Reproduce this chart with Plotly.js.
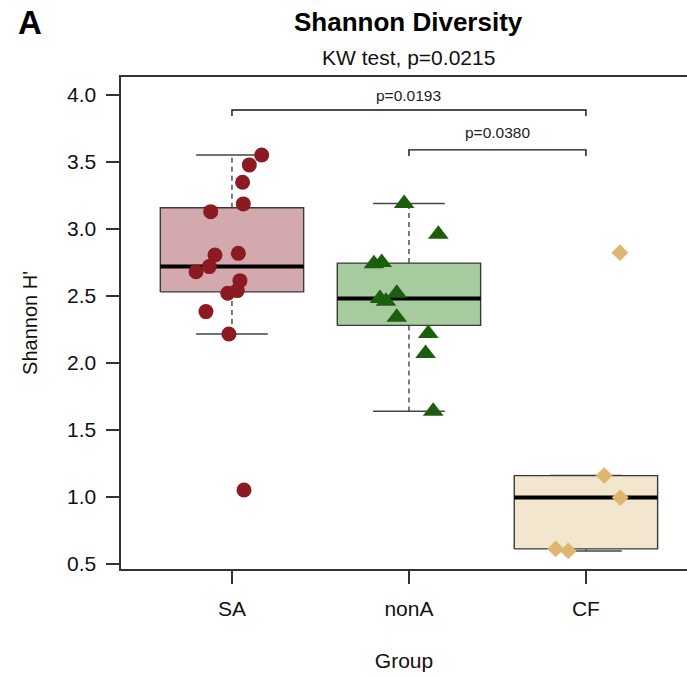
<!DOCTYPE html>
<html><head><meta charset="utf-8">
<script src="https://cdn.plot.ly/plotly-3.0.1.min.js"></script>
<style>html,body{margin:0;padding:0;background:#fff}#chart{width:687px;height:676px}</style>
</head><body><div id="chart"></div>
<script>
// ---- data ----
const groups = ['SA', 'nonA', 'CF'];
const saValues  = [3.552, 3.478, 3.349, 3.187, 3.129, 2.818, 2.806, 2.719, 2.681, 2.614, 2.540, 2.520, 2.383, 2.216, 1.052];
const saJitter  = [0.168, 0.098, 0.060, 0.064, -0.120, 0.036, -0.096, -0.128, -0.203, 0.045, 0.030, -0.024, -0.147, -0.017, 0.068];
const nonAValues = [3.19, 2.96, 2.74, 2.75, 2.48, 2.46, 2.52, 2.34, 2.22, 2.07, 1.64];
const nonAJitter = [-0.027, 0.166, -0.198, -0.154, -0.164, -0.130, -0.069, -0.069, 0.109, 0.094, 0.137];
const cfValues  = [2.823, 1.159, 0.995, 0.612, 0.597];
const cfJitter  = [0.192, 0.103, 0.194, -0.171, -0.100];
const yTicks = [0.5, 1.0, 1.5, 2.0, 2.5, 3.0, 3.5, 4.0];
const yTickLabels = ['0.5', '1.0', '1.5', '2.0', '2.5', '3.0', '3.5', '4.0'];
const bracketFrom = [1, 2];
const bracketTo = [3, 3];
const bracketHeights = [3.888, 3.59];
const bracketLabels = ['p=0.0193', 'p=0.0380'];
const titleText = 'Shannon Diversity';
const subtitleText = 'KW test, p=0.0215';

// ---- styles ----
const fillColors = ['#D4A9AE', '#A6CB9F', '#F2E6CF'];
const pointColors = ['#8C1A22', '#1C5E0E', '#DEB66F'];
const pointSymbols = ['circle', 'triangle-up', 'diamond'];
const pointSizes = [15, 18, 13];
const boxWidth = 0.81;
const stapleWidth = 0.405;
const FONT = 'Liberation Sans, Arial, Helvetica, sans-serif';

function fivenum(v) {
  const x = [...v].sort((a, b) => a - b);
  const n = x.length;
  const n4 = Math.floor((n + 3) / 2) / 2;
  const d = [1, n4, (n + 1) / 2, n + 1 - n4, n];
  return d.map(i => 0.5 * (x[Math.floor(i) - 1] + x[Math.ceil(i) - 1]));
}
function stats(v) {
  const f = fivenum(v);
  const q1 = f[1], med = f[2], q3 = f[3], iqr = q3 - q1;
  const inside = v.filter(a => a >= q1 - 1.5 * iqr && a <= q3 + 1.5 * iqr);
  return {q1, med, q3, lo: Math.min(...inside), hi: Math.max(...inside)};
}

const allValues = [saValues, nonAValues, cfValues];
const allJitter = [saJitter, nonAJitter, cfJitter];
const traces = [];
const edge = {color: '#3a3a3a', width: 1.4};

allValues.forEach((vals, i) => {
  const g = i + 1, s = stats(vals), h = boxWidth / 2, w = stapleWidth / 2;
  // whiskers (dashed)
  traces.push({type: 'scatter', mode: 'lines', x: [g, g, null, g, g], y: [s.q3, s.hi, null, s.q1, s.lo],
    line: {color: '#444', width: 1.4, dash: '5px,4px'}, hoverinfo: 'skip', showlegend: false});
  // staples
  traces.push({type: 'scatter', mode: 'lines', x: [g - w, g + w, null, g - w, g + w], y: [s.hi, s.hi, null, s.lo, s.lo],
    line: {color: '#444', width: 1.5}, hoverinfo: 'skip', showlegend: false});
  // box
  traces.push({type: 'scatter', mode: 'lines', x: [g - h, g + h, g + h, g - h, g - h], y: [s.q1, s.q1, s.q3, s.q3, s.q1],
    fill: 'toself', fillcolor: fillColors[i], line: edge, hoverinfo: 'skip', showlegend: false});
  // median
  traces.push({type: 'scatter', mode: 'lines', x: [g - h, g + h], y: [s.med, s.med],
    line: {color: '#000', width: 4}, hoverinfo: 'skip', showlegend: false});
});
allValues.forEach((vals, i) => {
  const g = i + 1;
  traces.push({type: 'scatter', mode: 'markers', name: groups[i],
    x: allJitter[i].map(j => g + j), y: vals,
    marker: {symbol: pointSymbols[i], size: pointSizes[i], color: pointColors[i], line: {width: 0}},
    showlegend: false});
});
// significance brackets
bracketFrom.forEach((a, k) => {
  const b = bracketTo[k], yb = bracketHeights[k], drop = 0.045;
  traces.push({type: 'scatter', mode: 'lines', x: [a, a, b, b], y: [yb - drop, yb, yb, yb - drop],
    line: {color: '#111', width: 1.4}, hoverinfo: 'skip', showlegend: false});
});

const annotations = bracketFrom.map((a, k) => ({
  x: (a + bracketTo[k]) / 2, y: bracketHeights[k] + 0.03 + 0.02 * k, xref: 'x', yref: 'y',
  text: bracketLabels[k], showarrow: false, yanchor: 'bottom',
  font: {family: FONT, size: 15.5, color: '#222'}
}));
annotations.push({x: 2, xref: 'x', y: 1.112, yref: 'paper', text: '<b>' + titleText + '</b>', showarrow: false,
  yanchor: 'middle', font: {family: FONT, size: 26, color: '#000'}});
annotations.push({x: 2, xref: 'x', y: 1.04, yref: 'paper', text: subtitleText, showarrow: false,
  yanchor: 'middle', font: {family: FONT, size: 21, color: '#111'}});
annotations.push({x: -0.185, xref: 'paper', xanchor: 'left', y: 1.11, yref: 'paper', text: '<b>A</b>', showarrow: false,
  yanchor: 'middle', font: {family: FONT, size: 33, color: '#000'}});

const layout = {
  width: 687, height: 676,
  margin: {l: 121, r: 0, t: 77, b: 107},
  paper_bgcolor: '#fff', plot_bgcolor: '#fff',
  showlegend: false,
  xaxis: {
    type: 'linear', range: [0.373, 3.571], tickmode: 'array', tickvals: [1, 2, 3], ticktext: groups,
    showgrid: false, zeroline: false, showline: true, mirror: true, linecolor: '#333', linewidth: 1.6,
    ticks: 'outside', ticklen: 13, tickwidth: 1.4, tickcolor: '#333',
    tickfont: {family: FONT, size: 21, color: '#111'}, ticklabelstandoff: 7,
    title: {text: 'Group', font: {family: FONT, size: 21, color: '#111'}, standoff: 34},
    automargin: false, fixedrange: true
  },
  yaxis: {
    range: [0.462, 4.134], tickmode: 'array', tickvals: yTicks, ticktext: yTickLabels,
    showgrid: false, zeroline: false, showline: true, linecolor: '#333', linewidth: 1.6,
    ticks: 'outside', ticklen: 13, tickwidth: 1.4, tickcolor: '#333',
    tickfont: {family: FONT, size: 21, color: '#111'}, ticklabelstandoff: 6,
    title: {text: "Shannon H'", font: {family: FONT, size: 20, color: '#111'}, standoff: 24},
    automargin: false, fixedrange: true
  },
  annotations: annotations
};
Plotly.newPlot('chart', traces, layout, {displayModeBar: false, staticPlot: true});
</script></body></html>
